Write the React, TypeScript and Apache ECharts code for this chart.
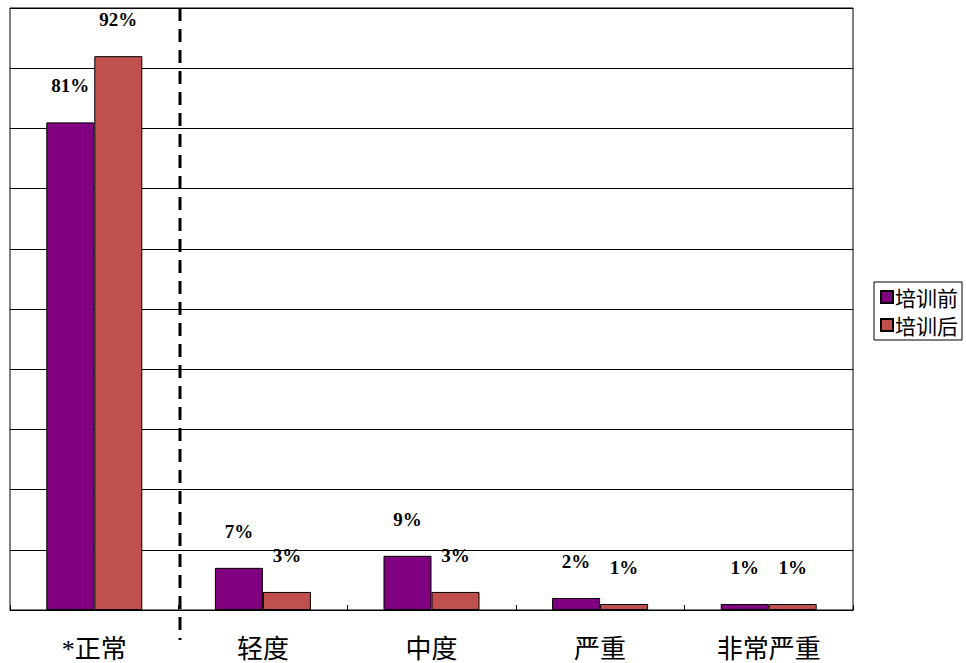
import React, { useEffect, useRef } from "react";
import * as echarts from "echarts";

const categories = ["*正常", "轻度", "中度", "严重", "非常严重"];
const before = [81, 7, 9, 2, 1];
const after = [92, 3, 3, 1, 1];
const seriesNames = ["培训前", "培训后"];

export default function App() {
  const ref = useRef<HTMLDivElement>(null);
  useEffect(() => {
    const chart = echarts.init(ref.current!, undefined, { renderer: "svg" });
    const labelCfg = {
      show: true,
      position: "top",
      distance: 27,
      formatter: "{c}%",
      fontFamily: "Liberation Serif, Times New Roman, serif",
      fontWeight: "bold",
      fontSize: 19,
      color: "#000",
    };
    chart.setOption({
      animation: false,
      backgroundColor: "#fff",
      grid: {
        left: 10,
        right: 113,
        top: 8,
        bottom: 53,
        show: true,
        borderColor: "#000",
        borderWidth: 1,
        backgroundColor: "transparent",
      },
      legend: {
        orient: "vertical",
        right: 4,
        top: 282,
        data: seriesNames,
        itemWidth: 12,
        itemHeight: 12,
        itemGap: 6,
        padding: [4, 4, 4, 6],
        borderColor: "#000",
        borderWidth: 1,
        borderRadius: 0,
        icon: "rect",
        textStyle: {
          fontFamily: "Noto Sans CJK SC",
          fontSize: 21,
          lineHeight: 22,
          color: "#000",
          padding: [0, 0, 0, -3],
        },
      },
      xAxis: {
        type: "category",
        data: categories,
        axisLine: { lineStyle: { color: "#000", width: 1 } },
        axisTick: { show: true, inside: true, length: 5, lineStyle: { color: "#000" } },
        axisLabel: {
          fontFamily: "Liberation Serif, Noto Sans CJK SC",
          fontSize: 26,
          color: "#000",
          margin: 26,
        },
      },
      yAxis: {
        type: "value",
        min: 0,
        max: 100,
        interval: 10,
        axisLine: { show: false },
        axisTick: { show: false },
        axisLabel: { show: false },
        splitLine: { lineStyle: { color: "#000", width: 1 } },
      },
      series: [
        {
          name: seriesNames[0],
          type: "bar",
          data: before,
          barWidth: 48,
          barGap: "0%",
          itemStyle: { color: "#800080", borderColor: "#000", borderWidth: 1 },
          label: labelCfg,
        },
        {
          name: seriesNames[1],
          type: "bar",
          data: after,
          barWidth: 48,
          barGap: "0%",
          itemStyle: { color: "#C0504D", borderColor: "#000", borderWidth: 1 },
          label: labelCfg,
        },
      ],
      graphic: [
        {
          type: "line",
          shape: { x1: 180, y1: 8, x2: 180, y2: 640 },
          style: { stroke: "#000", lineWidth: 3, lineDash: [13, 8] },
          z: 100,
        },
      ],
    });
    return () => chart.dispose();
  }, []);
  return <div ref={ref} style={{ width: 966, height: 663, position: "absolute", left: 0, top: 0 }} />;
}
